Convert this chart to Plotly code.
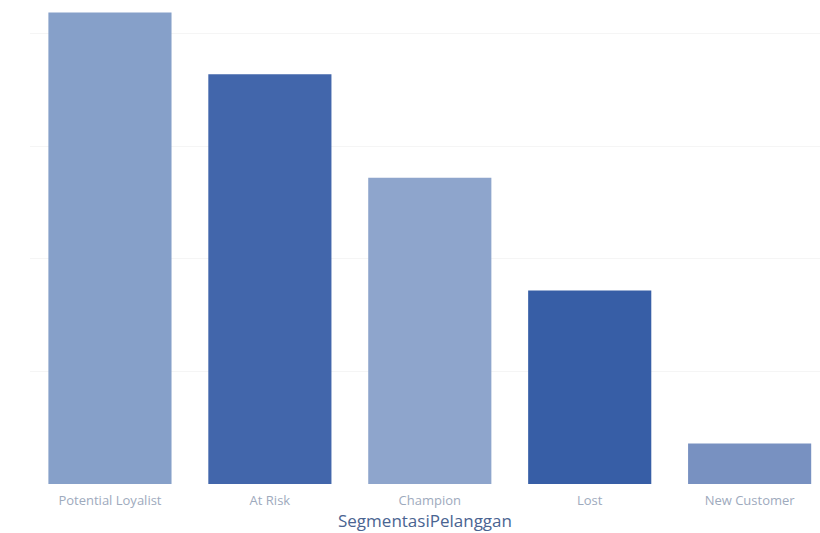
import plotly.graph_objects as go

categories = ["Potential Loyalist", "At Risk", "Champion", "Lost", "New Customer"]
values = [419, 364, 272, 172, 36]
bar_colors = ["#86a0c9", "#4266ab", "#8ea5cc", "#375ea6", "#7891c1"]

fig = go.Figure(
    go.Bar(
        x=categories,
        y=values,
        marker=dict(color=bar_colors, line=dict(width=0)),
        width=0.77,
    )
)

fig.update_layout(
    width=820,
    height=533,
    margin=dict(l=30, r=0, t=0, b=49),
    paper_bgcolor="white",
    plot_bgcolor="white",
    showlegend=False,
    bargap=0.23,
    xaxis=dict(
        range=[-0.5, 4.44],
        showgrid=False,
        showline=False,
        zeroline=False,
        ticks="outside",
        ticklen=4,
        tickcolor="rgba(0,0,0,0)",
        tickfont=dict(family="Open Sans", size=13, color="#9eaabd"),
        title=dict(
            text="SegmentasiPelanggan",
            font=dict(family="Open Sans", size=17, color="#4a6491"),
            standoff=3,
        ),
    ),
    yaxis=dict(
        range=[0, 430],
        dtick=100,
        showgrid=True,
        gridcolor="#f5f5f5",
        gridwidth=1,
        zeroline=False,
        showline=False,
        showticklabels=False,
        ticks="",
    ),
)

fig.write_html("out.html")
